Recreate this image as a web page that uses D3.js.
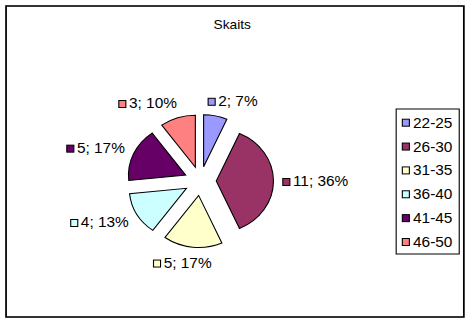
<!DOCTYPE html>
<html>
<head>
<meta charset="utf-8">
<script src="https://cdn.jsdelivr.net/npm/d3@7"></script>
<style>
  html, body { margin: 0; padding: 0; background: #fff; }
  svg { display: block; }
  text { font-family: "Liberation Sans", Arial, sans-serif; fill: #000; }
</style>
</head>
<body>
<svg id="chart" width="471" height="327"></svg>
<script>
// Age groups and head counts
const categories = ["22-25", "26-30", "31-35", "36-40", "41-45", "46-50"];
const counts = [2, 11, 5, 4, 5, 3];
const percentLabels = [7, 36, 17, 13, 17, 10];
const colors = ["#9999FF", "#993366", "#FFFFCC", "#CCFFFF", "#660066", "#FF8080"];
const title = "Skaits";

// Drawing space is 428 units wide, stretched to the 471px canvas
const W = 428, H = 327;
const svg = d3.select("#chart")
  .attr("viewBox", `0 0 ${W} ${H}`)
  .attr("preserveAspectRatio", "none");

// Outer chart frame
svg.append("rect")
  .attr("x", 5.5).attr("y", 6)
  .attr("width", 416).attr("height", 311)
  .attr("fill", "#fff").attr("stroke", "#000").attr("stroke-width", 1.6);

svg.append("text")
  .attr("x", 211).attr("y", 29.5)
  .attr("text-anchor", "middle")
  .attr("font-size", 12.5)
  .text(title);

// Exploded pie
const cx = 182, cy = 181, radius = 52, explode = 14.5;
const labelRx = 75, labelRy = 77;
const pie = d3.pie().sort(null).value(d => d.count);
const arc = d3.arc().innerRadius(0).outerRadius(radius);
const data = categories.map((c, i) => ({ cat: c, count: counts[i], pct: percentLabels[i], color: colors[i] }));
const arcs = pie(data);

const g = svg.append("g").attr("transform", `translate(${cx},${cy})`);

g.selectAll("path.slice")
  .data(arcs)
  .join("path")
  .attr("class", "slice")
  .attr("transform", d => {
    const a = (d.startAngle + d.endAngle) / 2;
    return `translate(${explode * Math.sin(a)},${-explode * Math.cos(a)})`;
  })
  .attr("d", arc)
  .attr("fill", d => d.data.color)
  .attr("stroke", "#000")
  .attr("stroke-width", 1);

// Data labels: legend key + "value; percent"
const keySize = 6.4, keyGap = 2.8, capH = 10;
const labels = g.selectAll("g.lbl")
  .data(arcs)
  .join("g")
  .attr("class", "lbl");

labels.each(function (d) {
  const sel = d3.select(this);
  const t = sel.append("text")
    .attr("font-size", 14)
    .text(`${d.data.count}; ${d.data.pct}%`);
  const tw = t.node().getComputedTextLength();
  const w = keySize + keyGap + tw;
  const a = (d.startAngle + d.endAngle) / 2;
  const s = Math.sin(a), c = -Math.cos(a);
  const f = Math.max(-1, Math.min(1, 3 * s));
  const bx = labelRx * s + f * w / 2;
  const by = labelRy * c + c * capH / 2;
  const left = bx - w / 2;
  const base = by + capH / 2;
  sel.insert("rect", "text")
    .attr("x", left).attr("y", base - 7.5)
    .attr("width", keySize).attr("height", 7)
    .attr("fill", d.data.color)
    .attr("stroke", "#000").attr("stroke-width", 1);
  t.attr("x", left + keySize + keyGap).attr("y", base);
});

// Legend
const legX = 360, legY = 109, legW = 57.3, legH = 145;
const legend = svg.append("g");
legend.append("rect")
  .attr("x", legX).attr("y", legY)
  .attr("width", legW).attr("height", legH)
  .attr("fill", "#fff").attr("stroke", "#000").attr("stroke-width", 1);

const ly = d3.scalePoint().domain(categories).range([122.7, 242]);
const items = legend.selectAll("g.item")
  .data(data)
  .join("g")
  .attr("class", "item")
  .attr("transform", d => `translate(0,${ly(d.cat)})`);
items.append("rect")
  .attr("x", 365.6).attr("y", -3.5)
  .attr("width", keySize).attr("height", 7)
  .attr("fill", d => d.color)
  .attr("stroke", "#000").attr("stroke-width", 1);
items.append("text")
  .attr("x", 375.3).attr("y", 5)
  .attr("font-size", 14)
  .text(d => d.cat);
</script>
</body>
</html>
